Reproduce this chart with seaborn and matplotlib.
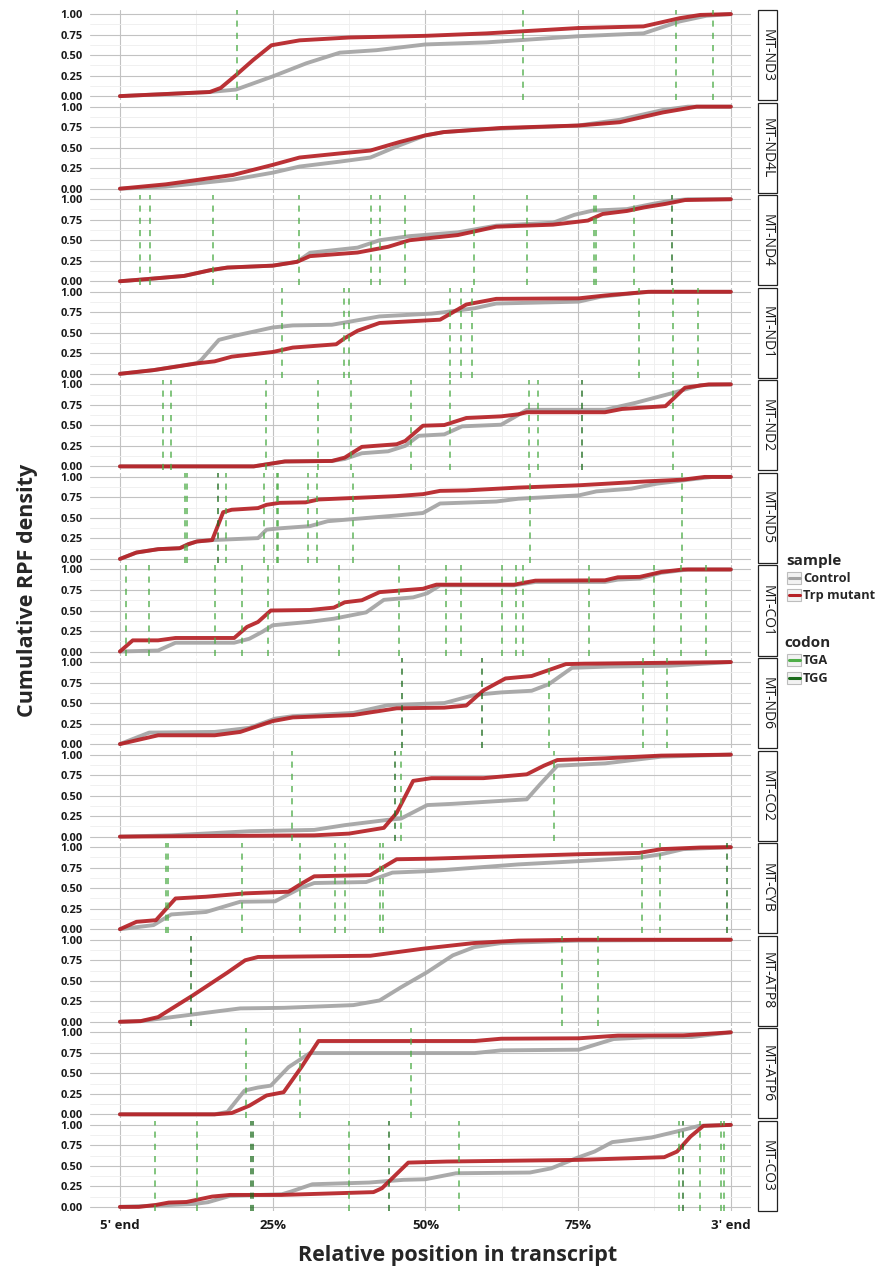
import numpy as np
import pandas as pd
import seaborn as sns
import matplotlib.pyplot as plt
from matplotlib.patches import Rectangle
from matplotlib.lines import Line2D

sns.set_style('white')
plt.rcParams['font.family'] = ['Open Sans', 'DejaVu Sans']

##### data (relative position, cumulative density) #####

genes = ['MT-ND3', 'MT-ND4L', 'MT-ND4', 'MT-ND1', 'MT-ND2', 'MT-ND5', 'MT-CO1',
         'MT-ND6', 'MT-CO2', 'MT-CYB', 'MT-ATP8', 'MT-ATP6', 'MT-CO3']
samples = ['Control', 'Trp mutant']
codons = ['TGA', 'TGG']

nd3_control = [(0, 0), (0.147, 0.05), (0.19, 0.08), (0.25, 0.24), (0.305, 0.40), (0.36, 0.53), (0.42, 0.56),
               (0.5, 0.63), (0.6, 0.655), (0.75, 0.73), (0.857, 0.765), (0.916, 0.91), (0.96, 0.98), (1, 1)]
nd3_mutant = [(0, 0), (0.147, 0.05), (0.165, 0.1), (0.19, 0.256), (0.218, 0.44), (0.248, 0.62), (0.294, 0.68),
              (0.376, 0.715), (0.5, 0.735), (0.6, 0.765), (0.75, 0.83), (0.857, 0.85), (0.916, 0.95), (0.95, 0.99), (1, 1)]
nd3_tga = [0.191, 0.659, 0.91, 0.97]
nd3_tgg = []

nd4l_control = [(0, 0), (0.075, 0.025), (0.185, 0.11), (0.25, 0.195), (0.294, 0.27), (0.36, 0.33), (0.41, 0.38),
                (0.458, 0.53), (0.5, 0.65), (0.53, 0.69), (0.6, 0.725), (0.75, 0.77), (0.818, 0.84), (0.889, 0.96),
                (0.93, 1.0), (1, 1)]
nd4l_mutant = [(0, 0), (0.075, 0.053), (0.13, 0.11), (0.185, 0.167), (0.25, 0.29), (0.294, 0.38), (0.36, 0.43),
               (0.41, 0.465), (0.458, 0.57), (0.5, 0.65), (0.53, 0.69), (0.623, 0.74), (0.75, 0.77), (0.818, 0.81),
               (0.889, 0.93), (0.944, 1.0), (1, 1)]
nd4l_tga = []
nd4l_tgg = []

nd4_control = [(0, 0), (0.034, 0.02), (0.105, 0.065), (0.148, 0.135), (0.176, 0.167), (0.25, 0.19), (0.29, 0.237),
               (0.311, 0.347), (0.389, 0.41), (0.425, 0.50), (0.474, 0.55), (0.553, 0.596), (0.616, 0.678),
               (0.709, 0.714), (0.744, 0.81), (0.773, 0.86), (0.83, 0.88), (0.872, 0.943), (0.9, 0.98), (0.93, 1.0), (1, 1)]
nd4_mutant = [(0, 0), (0.034, 0.02), (0.105, 0.065), (0.148, 0.135), (0.176, 0.167), (0.25, 0.19), (0.29, 0.237),
              (0.311, 0.306), (0.389, 0.35), (0.439, 0.42), (0.474, 0.50), (0.553, 0.563), (0.616, 0.665),
              (0.709, 0.69), (0.766, 0.74), (0.79, 0.82), (0.83, 0.857), (0.858, 0.90), (0.893, 0.943),
              (0.925, 0.99), (1, 1)]
nd4_tga = [0.033, 0.050, 0.152, 0.293, 0.411, 0.425, 0.466, 0.579, 0.666, 0.776, 0.779, 0.842]
nd4_tgg = [0.903]

nd1_control = [(0, 0), (0.055, 0.045), (0.126, 0.13), (0.133, 0.168), (0.162, 0.414), (0.19, 0.467), (0.25, 0.565),
               (0.283, 0.59), (0.347, 0.598), (0.425, 0.70), (0.51, 0.734), (0.53, 0.75), (0.581, 0.80),
               (0.616, 0.857), (0.751, 0.88), (0.787, 0.94), (0.85, 0.99), (0.87, 1.0), (1, 1)]
nd1_mutant = [(0, 0), (0.055, 0.045), (0.126, 0.127), (0.155, 0.152), (0.183, 0.209), (0.25, 0.266), (0.283, 0.32),
              (0.354, 0.36), (0.368, 0.435), (0.389, 0.525), (0.425, 0.62), (0.524, 0.66), (0.545, 0.75),
              (0.567, 0.845), (0.616, 0.914), (0.751, 0.92), (0.794, 0.955), (0.865, 1.0), (1, 1)]
nd1_tga = [0.266, 0.367, 0.375, 0.540, 0.558, 0.577, 0.850, 0.906, 0.947]
nd1_tgg = []

nd2_control = [(0, 0), (0.219, 0), (0.27, 0.06), (0.347, 0.066), (0.368, 0.09), (0.396, 0.16), (0.439, 0.184),
               (0.467, 0.25), (0.489, 0.373), (0.531, 0.39), (0.56, 0.488), (0.624, 0.508), (0.652, 0.627),
               (0.666, 0.69), (0.794, 0.69), (0.844, 0.775), (0.9, 0.885), (0.95, 0.99), (1, 1)]
nd2_mutant = [(0, 0), (0.219, 0), (0.27, 0.06), (0.347, 0.066), (0.368, 0.107), (0.396, 0.238), (0.453, 0.27),
              (0.467, 0.31), (0.496, 0.496), (0.531, 0.504), (0.567, 0.59), (0.624, 0.61), (0.652, 0.635),
              (0.666, 0.66), (0.794, 0.66), (0.822, 0.70), (0.893, 0.734), (0.925, 0.96), (0.964, 1.0), (1, 1)]
nd2_tga = [0.071, 0.083, 0.239, 0.325, 0.379, 0.477, 0.541, 0.670, 0.685, 0.905]
nd2_tgg = [0.756]

nd5_control = [(0, 0), (0.027, 0.078), (0.0625, 0.119), (0.098, 0.131), (0.112, 0.18), (0.126, 0.213),
               (0.151, 0.23), (0.226, 0.254), (0.24, 0.357), (0.261, 0.373), (0.311, 0.40), (0.34, 0.46),
               (0.453, 0.53), (0.496, 0.56), (0.524, 0.676), (0.616, 0.70), (0.652, 0.734), (0.751, 0.775),
               (0.78, 0.824), (0.837, 0.857), (0.879, 0.918), (0.936, 0.971), (0.97, 1.0), (1, 1)]
nd5_mutant = [(0, 0), (0.027, 0.078), (0.0625, 0.119), (0.098, 0.131), (0.112, 0.18), (0.126, 0.213),
              (0.151, 0.23), (0.169, 0.57), (0.183, 0.60), (0.226, 0.62), (0.24, 0.66), (0.261, 0.684),
              (0.304, 0.69), (0.325, 0.725), (0.453, 0.766), (0.496, 0.79), (0.524, 0.83), (0.567, 0.836),
              (0.652, 0.87), (0.751, 0.898), (0.865, 0.947), (0.922, 0.967), (0.957, 1.0), (1, 1)]
nd5_tga = [0.107, 0.110, 0.173, 0.2365, 0.257, 0.259, 0.308, 0.322, 0.381, 0.672, 0.92]
nd5_tgg = [0.16]

co1_control = [(0, 0), (0.0625, 0.012), (0.091, 0.107), (0.187, 0.107), (0.212, 0.156), (0.233, 0.24),
               (0.25, 0.32), (0.311, 0.362), (0.35, 0.40), (0.403, 0.477), (0.432, 0.63), (0.48, 0.66),
               (0.503, 0.71), (0.524, 0.807), (0.645, 0.807), (0.68, 0.848), (0.794, 0.848), (0.815, 0.877),
               (0.851, 0.889), (0.886, 0.96), (0.93, 1.0), (1, 1)]
co1_mutant = [(0, 0), (0.021, 0.136), (0.0625, 0.136), (0.091, 0.165), (0.187, 0.165), (0.208, 0.30),
              (0.226, 0.36), (0.247, 0.50), (0.311, 0.506), (0.35, 0.535), (0.368, 0.60), (0.396, 0.625),
              (0.425, 0.724), (0.453, 0.74), (0.496, 0.765), (0.518, 0.815), (0.645, 0.815), (0.68, 0.864),
              (0.794, 0.868), (0.815, 0.905), (0.851, 0.91), (0.886, 0.97), (0.922, 1.0), (1, 1)]
co1_tga = [0.0099, 0.047, 0.156, 0.199, 0.243, 0.359, 0.457, 0.533, 0.558, 0.626, 0.648, 0.659,
           0.768, 0.874, 0.919, 0.959]
co1_tgg = []

nd6_control = [(0, 0), (0.048, 0.14), (0.155, 0.148), (0.212, 0.198), (0.254, 0.31), (0.283, 0.34),
               (0.382, 0.38), (0.439, 0.475), (0.531, 0.50), (0.581, 0.60), (0.624, 0.63), (0.674, 0.65),
               (0.702, 0.73), (0.74, 0.93), (0.8, 0.945), (0.9, 0.955), (1, 1)]
nd6_mutant = [(0, 0), (0.0625, 0.107), (0.155, 0.107), (0.197, 0.148), (0.25, 0.28), (0.283, 0.325),
              (0.382, 0.354), (0.453, 0.436), (0.531, 0.444), (0.567, 0.47), (0.595, 0.654), (0.631, 0.80),
              (0.674, 0.83), (0.73, 0.975), (0.76, 0.98), (1, 1)]
nd6_tga = [0.702, 0.857, 0.896]
nd6_tgg = [0.4615, 0.593]

co2_control = [(0, 0), (0.084, 0.016), (0.212, 0.066), (0.318, 0.082), (0.368, 0.14), (0.439, 0.205),
               (0.46, 0.22), (0.503, 0.385), (0.545, 0.40), (0.666, 0.455), (0.688, 0.64), (0.716, 0.865),
               (0.794, 0.893), (0.886, 0.975), (1, 1)]
co2_mutant = [(0, 0), (0.155, 0.008), (0.318, 0.016), (0.375, 0.037), (0.432, 0.107), (0.453, 0.29),
              (0.48, 0.68), (0.51, 0.713), (0.595, 0.713), (0.666, 0.76), (0.694, 0.865), (0.716, 0.934),
              (0.794, 0.955), (0.886, 0.988), (1, 1)]
co2_tga = [0.281, 0.46, 0.71]
co2_tgg = [0.451]

cyb_control = [(0, 0), (0.055, 0.05), (0.084, 0.18), (0.141, 0.21), (0.197, 0.335), (0.254, 0.34),
               (0.297, 0.506), (0.318, 0.563), (0.403, 0.575), (0.446, 0.69), (0.51, 0.71), (0.652, 0.79),
               (0.751, 0.83), (0.85, 0.873), (0.886, 0.914), (0.922, 0.976), (1, 1)]
cyb_mutant = [(0, 0), (0.027, 0.09), (0.059, 0.11), (0.091, 0.375), (0.141, 0.396), (0.205, 0.437),
              (0.276, 0.457), (0.297, 0.555), (0.318, 0.645), (0.41, 0.66), (0.425, 0.73), (0.453, 0.853),
              (0.51, 0.86), (0.751, 0.914), (0.85, 0.93), (0.886, 0.976), (0.95, 0.996), (1, 1)]
cyb_tga = [0.076, 0.078, 0.2, 0.294, 0.352, 0.368, 0.426, 0.43, 0.854, 0.884]
cyb_tgg = [0.993]

atp8_control = [(0, 0), (0.034, 0.008), (0.197, 0.163), (0.268, 0.17), (0.382, 0.203), (0.425, 0.26),
                (0.46, 0.42), (0.503, 0.605), (0.545, 0.81), (0.58, 0.91), (0.624, 0.96), (0.751, 0.99), (1, 1)]
atp8_mutant = [(0, 0), (0.034, 0.008), (0.0625, 0.057), (0.119, 0.32), (0.176, 0.6), (0.205, 0.75),
               (0.226, 0.79), (0.41, 0.805), (0.495, 0.89), (0.58, 0.96), (0.652, 0.99), (0.751, 1.0), (1, 1)]
atp8_tga = [0.723, 0.782]
atp8_tgg = [0.116]

atp6_control = [(0, 0), (0.155, 0), (0.176, 0.03), (0.204, 0.29), (0.226, 0.327), (0.247, 0.35),
                (0.276, 0.575), (0.311, 0.747), (0.581, 0.747), (0.624, 0.78), (0.751, 0.788), (0.808, 0.918),
                (0.865, 0.94), (0.936, 0.943), (1, 1)]
atp6_mutant = [(0, 0), (0.155, 0), (0.183, 0.016), (0.212, 0.106), (0.24, 0.23), (0.268, 0.27),
               (0.297, 0.575), (0.325, 0.894), (0.581, 0.894), (0.624, 0.922), (0.751, 0.927), (0.815, 0.96),
               (0.922, 0.963), (1, 1)]
atp6_tga = [0.206, 0.295, 0.476]
atp6_tgg = []

co3_control = [(0, 0), (0.059, 0.016), (0.123, 0.037), (0.144, 0.057), (0.18, 0.134), (0.265, 0.154),
               (0.28, 0.187), (0.315, 0.276), (0.408, 0.297), (0.464, 0.33), (0.5, 0.337), (0.55, 0.41),
               (0.671, 0.419), (0.706, 0.47), (0.749, 0.60), (0.777, 0.675), (0.806, 0.79), (0.87, 0.846),
               (0.912, 0.92), (0.948, 0.988), (1, 1)]
co3_mutant = [(0, 0), (0.031, 0.0), (0.059, 0.024), (0.08, 0.053), (0.109, 0.06), (0.151, 0.126),
              (0.18, 0.146), (0.265, 0.146), (0.415, 0.18), (0.429, 0.228), (0.472, 0.54), (0.535, 0.553),
              (0.749, 0.573), (0.891, 0.606), (0.912, 0.675), (0.934, 0.858), (0.955, 0.988), (1, 1)]
co3_tga = [0.057, 0.126, 0.375, 0.555, 0.915, 0.95, 0.984, 0.988]
co3_tgg = [0.214, 0.218, 0.44, 0.922]

curves = {
    'MT-ND3': (nd3_control, nd3_mutant, nd3_tga, nd3_tgg),
    'MT-ND4L': (nd4l_control, nd4l_mutant, nd4l_tga, nd4l_tgg),
    'MT-ND4': (nd4_control, nd4_mutant, nd4_tga, nd4_tgg),
    'MT-ND1': (nd1_control, nd1_mutant, nd1_tga, nd1_tgg),
    'MT-ND2': (nd2_control, nd2_mutant, nd2_tga, nd2_tgg),
    'MT-ND5': (nd5_control, nd5_mutant, nd5_tga, nd5_tgg),
    'MT-CO1': (co1_control, co1_mutant, co1_tga, co1_tgg),
    'MT-ND6': (nd6_control, nd6_mutant, nd6_tga, nd6_tgg),
    'MT-CO2': (co2_control, co2_mutant, co2_tga, co2_tgg),
    'MT-CYB': (cyb_control, cyb_mutant, cyb_tga, cyb_tgg),
    'MT-ATP8': (atp8_control, atp8_mutant, atp8_tga, atp8_tgg),
    'MT-ATP6': (atp6_control, atp6_mutant, atp6_tga, atp6_tgg),
    'MT-CO3': (co3_control, co3_mutant, co3_tga, co3_tgg),
}

# long tables
rows = []
codon_rows = []
for g in genes:
    ctrl, mut, tga, tgg = curves[g]
    for s, pts in zip(samples, [ctrl, mut]):
        for x, y in pts:
            rows.append({'gene': g, 'sample': s, 'pos': x, 'density': y})
    for c, xs in zip(codons, [tga, tgg]):
        for x in xs:
            codon_rows.append({'gene': g, 'codon': c, 'pos': x})
df = pd.DataFrame(rows)
df_codon = pd.DataFrame(codon_rows)

sample_pal = {'Control': '#A3A3A3', 'Trp mutant': '#B52025'}
codon_pal = {'TGA': '#4FAE49', 'TGG': '#1B6B1B'}

##### plot #####
W, H = 882, 1272
fig, axes = plt.subplots(len(genes), 1, figsize=(W / 100, H / 100), dpi=100, sharex=True)
fig.subplots_adjust(left=90 / W, right=751 / W, top=1 - 10 / H, bottom=1 - 1211 / H, hspace=0.026)

for ax, g in zip(axes, genes):
    sub = df[df['gene'] == g]
    sns.lineplot(data=sub, x='pos', y='density', hue='sample', hue_order=samples, palette=sample_pal,
                 estimator=None, sort=False, lw=2.8, alpha=0.92, legend=False, ax=ax, zorder=3)
    csub = df_codon[df_codon['gene'] == g]
    for _, r in csub.iterrows():
        ax.axvline(r['pos'], color=codon_pal[r['codon']], lw=1.1, ls=(0, (4, 4)), alpha=0.9, zorder=4)

    ax.set_xlim(-0.049, 1.033)
    ax.set_ylim(-0.05, 1.05)
    ax.set_xticks([0, 0.25, 0.5, 0.75, 1])
    ax.set_xticks([0.125, 0.375, 0.625, 0.875], minor=True)
    ax.set_yticks([0, 0.25, 0.5, 0.75, 1])
    ax.set_yticks([0.125, 0.375, 0.625, 0.875], minor=True)
    ax.set_yticklabels(['0.00', '0.25', '0.50', '0.75', '1.00'], fontsize=8, fontweight='bold', color='#1a1a1a')
    ax.grid(which='major', color='#C2C2C2', lw=0.8)
    ax.grid(which='minor', color='#EEEEEE', lw=0.6)
    ax.set_axisbelow(True)
    for sp in ax.spines.values():
        sp.set_visible(False)
    ax.tick_params(axis='y', which='major', length=3, width=0.8, color='#B0B0B0', pad=2)
    ax.tick_params(axis='x', which='major', length=3, width=0.8, color='#B0B0B0', pad=3)
    ax.tick_params(which='minor', length=0)
    ax.set_xlabel('')
    ax.set_ylabel('')

    # strip on the right
    bb = ax.get_position()
    fig.patches.append(Rectangle((758 / W, bb.y0), 19 / W, bb.height, transform=fig.transFigure,
                                 facecolor='white', edgecolor='#222222', lw=0.9))
    fig.text(767.5 / W, bb.y0 + bb.height / 2, g, rotation=270, ha='center', va='center',
             fontsize=10, color='#1a1a1a')

axes[-1].set_xticklabels(["5' end", '25%', '50%', '75%', "3' end"], fontsize=9.5, fontweight='bold',
                         color='#1a1a1a')

fig.text(458 / W, 1 - 1256 / H, 'Relative position in transcript', ha='center', va='center',
         fontsize=15.5, fontweight='bold')
fig.text(28 / W, 1 - 590 / H, 'Cumulative RPF density', ha='center', va='center', rotation=90,
         fontsize=15.5, fontweight='bold')

# legend
def key(y_px, color):
    fig.patches.append(Rectangle((787 / W, 1 - (y_px + 6) / H), 14 / W, 12 / H, transform=fig.transFigure,
                                 facecolor='#F2F2F2', edgecolor='#BDBDBD', lw=0.8))
    fig.lines.append(Line2D([788.5 / W, 799.5 / W], [1 - y_px / H, 1 - y_px / H], transform=fig.transFigure,
                            color=color, lw=2.2))

fig.text(786 / W, 1 - 561 / H, 'sample', fontsize=11, fontweight='bold', va='center')
for yy, s in zip([578, 595], samples):
    key(yy, sample_pal[s])
    fig.text(803 / W, 1 - yy / H, s, fontsize=9.2, fontweight='bold', va='center')
fig.text(784 / W, 1 - 643 / H, 'codon', fontsize=11, fontweight='bold', va='center')
for yy, c in zip([660, 678], codons):
    key(yy, codon_pal[c])
    fig.text(803 / W, 1 - yy / H, c, fontsize=9.2, fontweight='bold', va='center')

fig.savefig('out.png', dpi=100, facecolor='white')
